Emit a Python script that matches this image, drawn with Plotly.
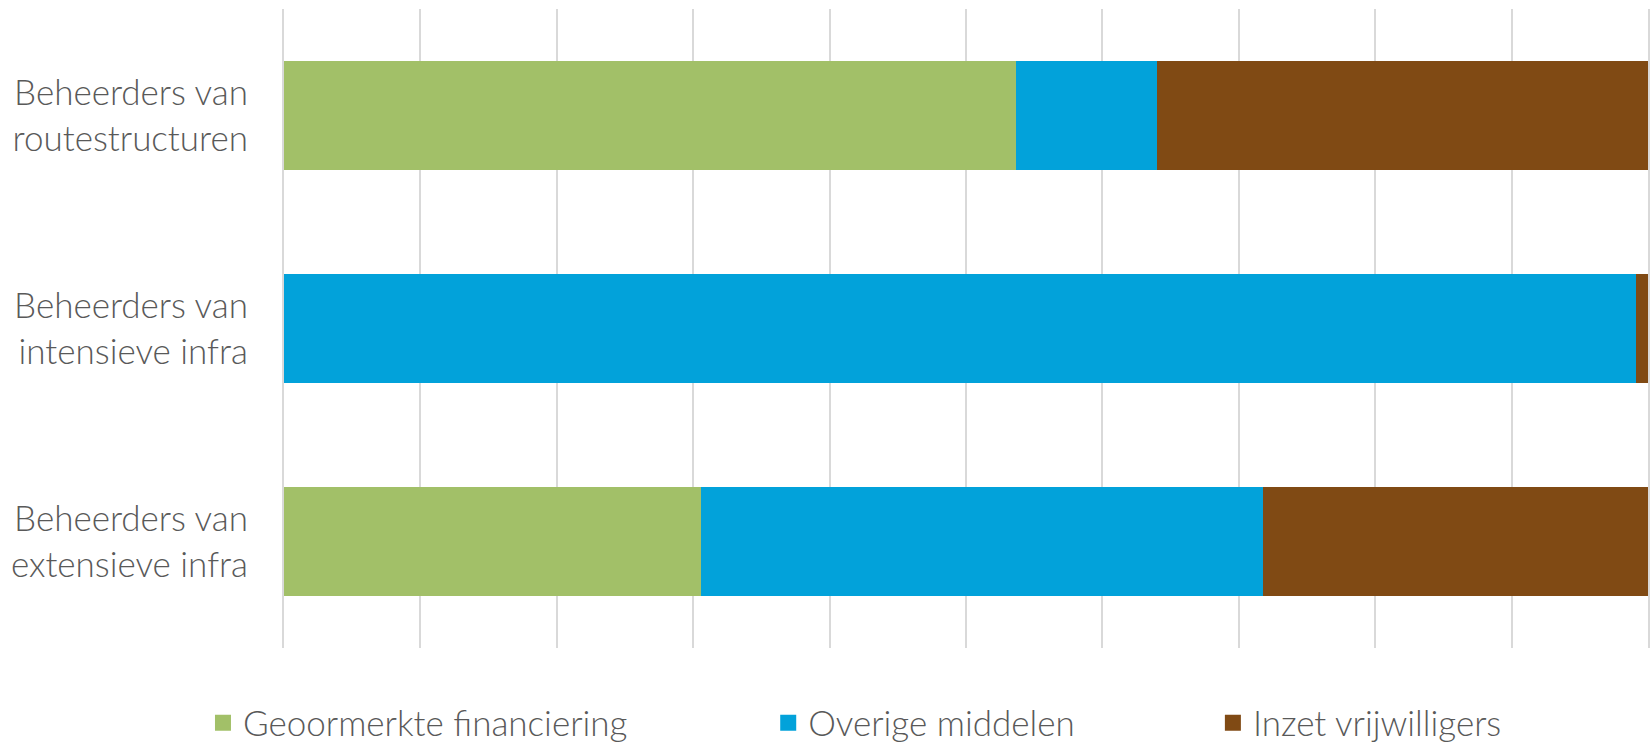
import plotly.graph_objects as go

categories = ["Beheerders van<br>routestructuren", "Beheerders van<br>intensieve infra", "Beheerders van<br>extensieve infra"]
series_names = ["Geoormerkte financiering", "Overige middelen", "Inzet vrijwilligers"]
geoormerkt = [53.7, 0.0, 30.6]
overige = [10.3, 99.1, 41.2]
vrijwilligers = [36.0, 0.9, 28.2]
colors = ["#A2C068", "#02A2DA", "#804A14"]

FONT = "Lato"
TXT = "#595959"
GRID = "#D9D9D9"

fig = go.Figure()
for name, vals, col in zip(series_names, [geoormerkt, overige, vrijwilligers], colors):
    fig.add_trace(go.Bar(y=categories, x=vals, name=name, orientation="h",
                         marker=dict(color=col, line=dict(width=0)), showlegend=False))

legend_x = [-0.0594, 0.355, 0.681]
for i, (name, col) in enumerate(zip(series_names, colors)):
    lg = "legend" if i == 0 else f"legend{i+1}"
    fig.add_trace(go.Scatter(x=[None], y=[None], mode="markers", name=name,
                             marker=dict(symbol="square", size=20, color=col),
                             legend=lg, showlegend=True))

legend_common = dict(orientation="h", yref="container", yanchor="middle", y=0.027, xanchor="left",
                     font=dict(family=FONT, size=35, color=TXT, weight=300),
                     bgcolor="rgba(0,0,0,0)", borderwidth=0)
fig.update_layout(
    barmode="stack",
    bargap=0.49,
    width=1650, height=743,
    margin=dict(l=284, r=2, t=9, b=95, autoexpand=False),
    plot_bgcolor="white", paper_bgcolor="white",
    font=dict(family=FONT, color=TXT, weight=300),
    legend=dict(x=legend_x[0], **legend_common),
    legend2=dict(x=legend_x[1], **legend_common),
    legend3=dict(x=legend_x[2], **legend_common),
    xaxis=dict(range=[0, 100], dtick=10, showgrid=True, gridcolor=GRID, gridwidth=2,
               showticklabels=False, zeroline=False, showline=False, fixedrange=True),
    yaxis=dict(autorange="reversed", showgrid=False, zeroline=False,
               showline=True, mirror=True, linecolor=GRID, linewidth=2, layer="below traces",
               tickfont=dict(family=FONT, size=35, color=TXT, weight=300),
               ticklabelstandoff=27),
)
fig.write_html("out.html",
               config={"displayModeBar": False},
               post_script="document.body.style.margin='0';document.body.style.overflow='hidden';")
